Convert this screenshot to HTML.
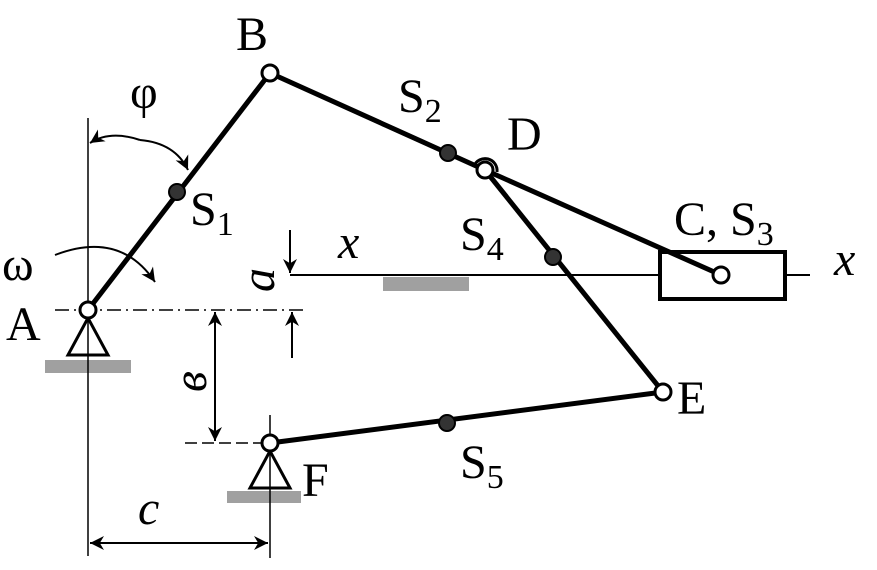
<!DOCTYPE html>
<html><head><style>body{margin:0;background:#fff}svg{display:block}text{font-family:"Liberation Serif",serif;fill:#000}</style></head><body>
<svg width="877" height="570" viewBox="0 0 877 570" xmlns="http://www.w3.org/2000/svg">
<defs><marker id="ar" viewBox="0 0 10 10" refX="10" refY="5" markerWidth="16" markerHeight="14" markerUnits="userSpaceOnUse" orient="auto"><path d="M0,0 L10,5 L0,10 L3,5 z" fill="#000"/></marker></defs>
<rect x="45" y="360" width="86" height="13" fill="#a0a0a0"/>
<rect x="227" y="491" width="74" height="12" fill="#a0a0a0"/>
<rect x="383" y="277" width="86" height="14" fill="#a0a0a0"/>
<g stroke="#000" fill="none">
<line x1="88" y1="118" x2="88" y2="556" stroke-width="1.5"/>
<line x1="270" y1="415" x2="270" y2="558" stroke-width="1.5"/>
<line x1="55" y1="310" x2="305" y2="310" stroke-width="1.5" stroke-dasharray="14,5,2,5"/>
<line x1="185" y1="443" x2="262" y2="443" stroke-width="1.5" stroke-dasharray="12,5"/>
<line x1="290" y1="275" x2="659" y2="275" stroke-width="2"/>
<line x1="786" y1="275" x2="810" y2="275" stroke-width="2"/>
<line x1="290" y1="230" x2="290" y2="273" stroke-width="2" marker-end="url(#ar)"/>
<line x1="292" y1="358" x2="292" y2="312" stroke-width="2" marker-end="url(#ar)"/>
<line x1="215" y1="376" x2="215" y2="312" stroke-width="2" marker-end="url(#ar)"/>
<line x1="215" y1="376" x2="215" y2="441" stroke-width="2" marker-end="url(#ar)"/>
<line x1="180" y1="543" x2="90" y2="543" stroke-width="2" marker-end="url(#ar)"/>
<line x1="180" y1="543" x2="268" y2="543" stroke-width="2" marker-end="url(#ar)"/>
<path d="M140,140 Q110,130 90,143" stroke-width="2" marker-end="url(#ar)"/>
<path d="M140,140 Q175,143 188,170" stroke-width="2" marker-end="url(#ar)"/>
<path d="M55,255 Q120,230 155,282" stroke-width="2" marker-end="url(#ar)"/>
<rect x="660" y="252" width="125" height="47" stroke-width="4"/>
<g stroke-width="5">
<line x1="88" y1="310" x2="270" y2="73"/>
<line x1="270" y1="73" x2="485" y2="170"/>
<line x1="485" y1="170" x2="721" y2="275"/>
<line x1="485" y1="170" x2="663" y2="392"/>
<line x1="663" y1="392" x2="270" y2="443"/>
</g>
<path d="M474,166 A12,12 0 0 1 497,172" stroke-width="3"/>
<path d="M88,318 L68,355 L108,355 Z" stroke-width="3" fill="#fff"/>
<path d="M270,451 L250,488 L290,488 Z" stroke-width="3" fill="#fff"/>
<line x1="88" y1="318" x2="88" y2="356" stroke-width="1.5"/>
<line x1="270" y1="451" x2="270" y2="488" stroke-width="1.5"/>
</g>
<g fill="#333" stroke="#000" stroke-width="2">
<circle cx="177" cy="192" r="8"/><circle cx="448" cy="153" r="8"/><circle cx="553" cy="257" r="8"/><circle cx="447" cy="423" r="8"/>
</g>
<g fill="#fff" stroke="#000" stroke-width="3">
<circle cx="88" cy="310" r="8"/><circle cx="270" cy="73" r="8"/><circle cx="485" cy="170" r="8"/><circle cx="721" cy="275" r="8"/><circle cx="663" cy="392" r="8"/><circle cx="270" cy="443" r="8"/>
</g>
<g font-size="48">
<text x="236" y="50">B</text>
<text x="130" y="108">φ</text>
<text x="190" y="225">S<tspan font-size="34" dy="10">1</tspan></text>
<text x="398" y="112">S<tspan font-size="34" dy="10">2</tspan></text>
<text x="507" y="150">D</text>
<text x="460" y="250">S<tspan font-size="34" dy="10">4</tspan></text>
<text x="674" y="235">C, S<tspan font-size="34" dy="10">3</tspan></text>
<text x="338" y="258" font-style="italic">x</text>
<text x="834" y="275" font-style="italic">x</text>
<text x="2" y="280">ω</text>
<text x="6" y="340">A</text>
<text x="677" y="414">E</text>
<text x="302" y="496">F</text>
<text x="460" y="478">S<tspan font-size="34" dy="10">5</tspan></text>
<text x="138" y="524" font-style="italic">c</text>
<text transform="translate(274,292) rotate(-90)" font-style="italic">a</text>
<text transform="translate(206,392) rotate(-90)" font-style="italic">в</text>
</g>
</svg>
</body></html>
